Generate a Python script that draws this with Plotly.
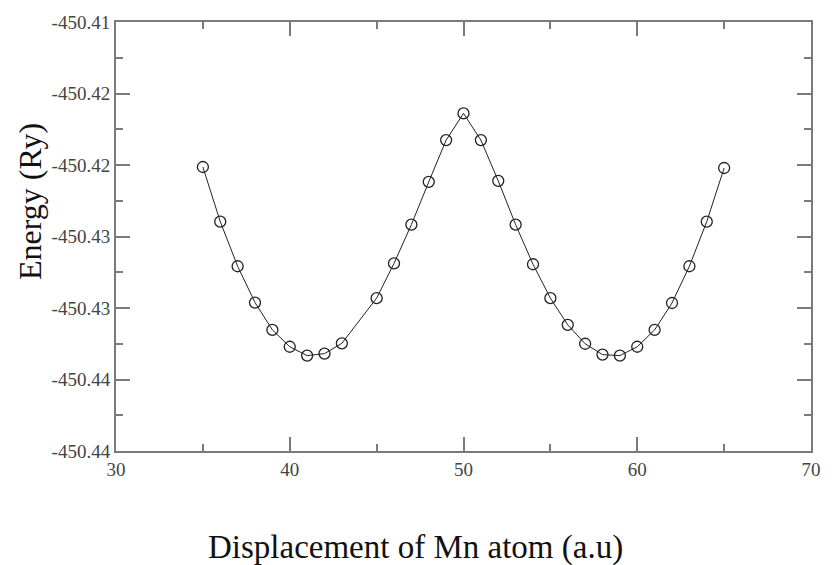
import plotly.graph_objects as go

# Data
displacement = [35, 36, 37, 38, 39, 40, 41, 42, 43, 45, 46, 47, 48, 49, 50,
                51, 52, 53, 54, 55, 56, 57, 58, 59, 60, 61, 62, 63, 64, 65]
energy = [-450.42014, -450.42396, -450.42708, -450.42962, -450.43153, -450.43271,
          -450.43333, -450.43319, -450.43247, -450.42931, -450.42688, -450.42417,
          -450.42118, -450.41826, -450.41639, -450.41826, -450.42111, -450.42417,
          -450.42694, -450.42931, -450.43118, -450.43250, -450.43326, -450.43333,
          -450.43271, -450.43153, -450.42965, -450.42708, -450.42396, -450.42021]

y_tick_vals = [-450.44, -450.435, -450.43, -450.425, -450.42, -450.415, -450.41]
y_tick_text = ["-450.44", "-450.44", "-450.43", "-450.43", "-450.42", "-450.42", "-450.41"]
x_tick_vals = [30, 40, 50, 60, 70]
x_tick_text = ["30", "40", "50", "60", "70"]

x_title = "Displacement of Mn atom (a.u)"
y_title = "Energy (Ry)"

SERIF = "Liberation Serif"
AXIS_COLOR = "#7a7a7a"
TICK_FONT = dict(family=SERIF, size=19, color="#444444")

fig = go.Figure()
fig.add_trace(go.Scatter(
    x=displacement, y=energy, mode="lines+markers",
    line=dict(color="#222222", width=1),
    marker=dict(symbol="circle-open", size=11, color="#222222",
                line=dict(width=1.3, color="#222222")),
    showlegend=False,
))

common = dict(
    showline=True, linecolor=AXIS_COLOR, linewidth=2, mirror="allticks",
    ticks="inside", tickcolor=AXIS_COLOR, tickwidth=1.5, ticklen=14,
    showgrid=False, zeroline=False, tickfont=TICK_FONT,
)

fig.update_xaxes(
    range=[30, 70], tickmode="array", tickvals=x_tick_vals, ticktext=x_tick_text,
    minor=dict(tickmode="linear", tick0=30, dtick=5, ticks="inside", ticklen=7,
               tickcolor=AXIS_COLOR, tickwidth=1.5, showgrid=False),
    ticklabelstandoff=0,
    **common,
)
fig.update_yaxes(
    range=[-450.44, -450.41], tickmode="array", tickvals=y_tick_vals, ticktext=y_tick_text,
    minor=dict(tickmode="linear", tick0=-450.44, dtick=0.0025, ticks="inside", ticklen=7,
               tickcolor=AXIS_COLOR, tickwidth=1.5, showgrid=False),
    **common,
)

fig.add_annotation(
    text=x_title, xref="paper", yref="paper",
    x=(420 - 116) / 705, y=(451 - 548) / 432,
    xanchor="center", yanchor="middle", showarrow=False,
    font=dict(family=SERIF, size=33, color="#111111"),
)
fig.add_annotation(
    text=y_title, xref="paper", yref="paper",
    x=(28 - 116) / 705, y=(451 - 200) / 432,
    xanchor="center", yanchor="middle", showarrow=False, textangle=-90,
    font=dict(family=SERIF, size=32, color="#111111"),
)

fig.update_layout(
    width=833, height=565,
    margin=dict(l=116, r=12, t=19, b=114),
    plot_bgcolor="white", paper_bgcolor="white",
)

fig.write_html("out.html")
